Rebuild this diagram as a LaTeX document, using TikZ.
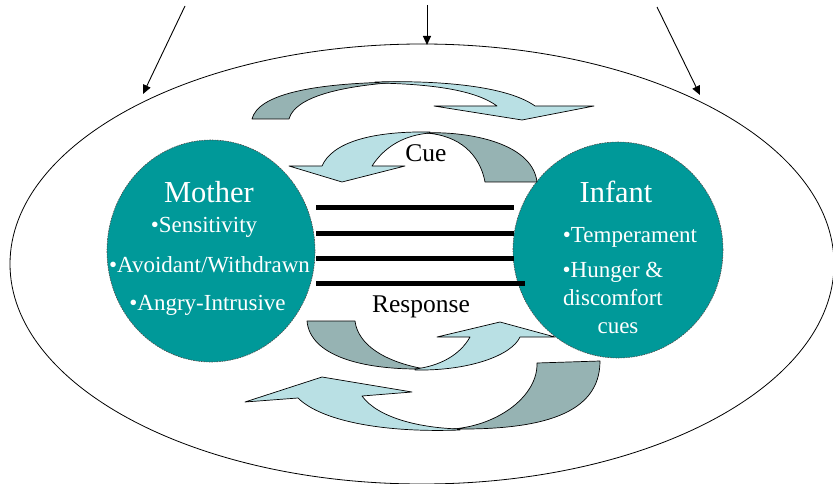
\documentclass[tikz,border=0pt]{standalone}
\usepackage{fontspec}
\setmainfont{Liberation Serif}
\usetikzlibrary{shapes.geometric,arrows.meta}

\definecolor{circleTeal}{RGB}{0,153,153}
\definecolor{bandDark}{RGB}{150,179,179}
\definecolor{bandLight}{RGB}{185,224,228}

\tikzset{
  field/.style={ellipse, draw=black, line width=0.8pt, inner sep=0pt},
  person/.style={ellipse, fill=circleTeal, draw=black!70, line width=0.6pt,
    dash pattern=on 1.6pt off 1pt, inner sep=0pt},
  heading/.style={text=white, anchor=base, inner sep=0pt,
    font=\fontsize{30.5}{34}\selectfont},
  trait/.style={text=white, anchor=base, inner sep=0pt,
    font=\fontsize{23}{26}\selectfont},
  caption/.style={text=black, anchor=base, inner sep=0pt,
    font=\fontsize{25.5}{29}\selectfont},
  bond/.style={line width=5pt, draw=black},
  influence/.style={draw=black, line width=0.9pt,
    -{Triangle[length=9pt,width=8pt]}},
  backband/.style={fill=bandDark, draw=black, line width=0.7pt, line join=round},
  frontband/.style={fill=bandLight, draw=black, line width=0.7pt, line join=round},
}

\begin{document}
\begin{tikzpicture}[x=1pt,y=-1pt]
\useasboundingbox (0,0) rectangle (833,484);

% surrounding context
\node[field, minimum width=824pt, minimum height=440pt] (field) at (422,264) {};

% outside influences
\coordinate (srcL) at (185,6);
\coordinate (srcM) at (427,5);
\coordinate (srcR) at (657,7);
\coordinate (dstL) at (143,94);
\coordinate (dstM) at (427,45);
\coordinate (dstR) at (700,95);
\draw[influence] (srcL) -- (dstL);
\draw[influence] (srcM) -- (dstM);
\draw[influence] (srcR) -- (dstR);

% the two partners
\node[person, minimum width=208pt, minimum height=222pt] (mother) at (211,251) {};
\node[person, minimum width=210pt, minimum height=216pt] (infant) at (618,250) {};

\node[heading] (motherTitle) at (209,202) {Mother};
\node[trait] (sens) at (204,233) {•Sensitivity};
\node[trait] (avoid) at (209.5,272) {•Avoidant/Withdrawn};
\node[trait] (angry) at (207.5,310) {•Angry-Intrusive};

\node[heading] (infantTitle) at (616,202) {Infant};
\node[trait] (temp) at (630,242) {•Temperament};
\node[trait] (hunger) at (613,277) {•Hunger \&};
\node[trait] (discomfort) at (613,305) {discomfort};
\node[trait] (cues) at (618,333) {cues};

% the bond between them
\draw[bond] (316,207) -- (514,207);
\draw[bond] (316,233) -- (514,233);
\draw[bond] (316,258) -- (514,258);
\draw[bond] (316,283) -- (525,283);

% upper cycle, outer arrow (left to right)
\draw[backband] (252,119) .. controls (258,95) and (310,83) .. (400,82)
  .. controls (340,86) and (295,97) .. (289,119) -- cycle;
\draw[frontband] (375,82) .. controls (450,80) and (510,88) .. (535,106)
  -- (594,106) -- (522,120) -- (434,106) -- (497,106)
  .. controls (478,92) and (440,84) .. (375,83) -- cycle;

% upper cycle, inner arrow (right to left)
\draw[backband] (537,182) -- (485,182)
  .. controls (480,155) and (460,135) .. (425,133)
  .. controls (460,131) and (532,140) .. (537,182) -- cycle;
\draw[frontband] (430,132) .. controls (370,131) and (332,143) .. (322,166)
  -- (289,166) -- (342,182) -- (405,166) -- (372,166)
  .. controls (385,146) and (405,135) .. (430,133) -- cycle;

\node[caption] (cue) at (426,162) {Cue};
\node[caption] (response) at (421,312) {Response};

% lower cycle, inner arrow (left to right)
\draw[backband] (307,321) -- (355,321)
  .. controls (358,345) and (385,362) .. (425,369)
  .. controls (360,370) and (310,355) .. (307,321) -- cycle;
\draw[frontband] (415,370) .. controls (470,371) and (512,355) .. (520,337)
  -- (555,337) -- (500,322) -- (437,337) -- (470,337)
  .. controls (460,355) and (440,366) .. (415,369) -- cycle;

% lower cycle, outer arrow (right to left)
\draw[backband] (537,363) -- (600,361)
  .. controls (600,415) and (540,430) .. (453,429)
  .. controls (500,425) and (538,395) .. (537,363) -- cycle;
\draw[frontband] (460,430) .. controls (380,433) and (320,420) .. (298,398)
  -- (245,402) -- (322,377) -- (412,392) -- (362,396)
  .. controls (378,418) and (420,428) .. (460,429) -- cycle;

\end{tikzpicture}
\end{document}
